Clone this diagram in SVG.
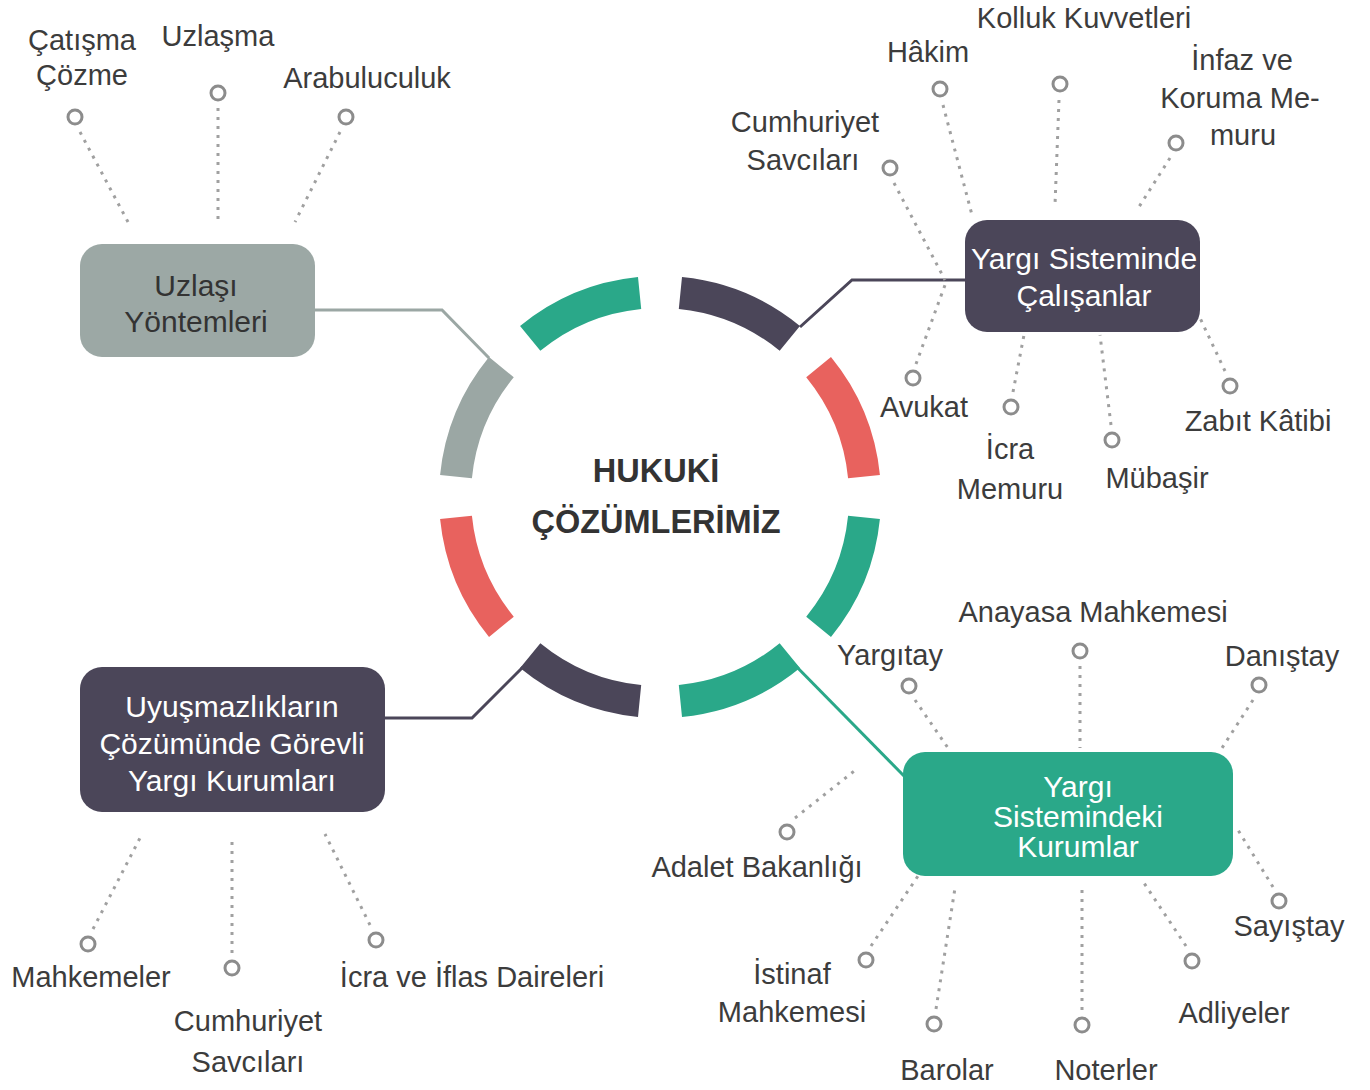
<svg xmlns="http://www.w3.org/2000/svg" width="1370" height="1090" viewBox="0 0 1370 1090">
<style>
.bg{fill:#ffffff}
.ring{fill:none;stroke-width:32}
.dk{stroke:#4b4659}
.rd{stroke:#e8625e}
.gn{stroke:#2aa889}
.gy{stroke:#9ba7a4}
.conn{fill:none;stroke-width:3}
.dot{fill:none;stroke:#a0a0a0;stroke-width:3;stroke-dasharray:3 6}
.pin{fill:#ffffff;stroke:#8c8c8c;stroke-width:3}
.lbl{font-family:"Liberation Sans",Arial,sans-serif;font-size:29px;fill:#3c3c3c;text-anchor:middle;dominant-baseline:central}
.btx{font-family:"Liberation Sans",Arial,sans-serif;font-size:30px;fill:#ffffff;text-anchor:middle;dominant-baseline:central}
.ctr{font-family:"Liberation Sans",Arial,sans-serif;font-size:32.5px;font-weight:bold;fill:#333333;text-anchor:middle;dominant-baseline:central}
</style>
<rect class="bg" x="0" y="0" width="1370" height="1090"/>

<g id="center">
<path class="ring dk" d="M680.4,293 A205,205 0 0 1 789.8,338.4"/>
<path class="ring rd" d="M818.6,367.2 A205,205 0 0 1 864,476.6"/>
<path class="ring gn" d="M864,517.4 A205,205 0 0 1 818.6,626.8"/>
<path class="ring gn" d="M789.8,655.6 A205,205 0 0 1 680.4,701"/>
<path class="ring dk" d="M639.6,701 A205,205 0 0 1 530.2,655.6"/>
<path class="ring rd" d="M501.4,626.8 A205,205 0 0 1 456,517.4"/>
<path class="ring gy" d="M456,476.6 A205,205 0 0 1 501.4,367.2"/>
<path class="ring gn" d="M530.2,338.4 A205,205 0 0 1 639.6,293"/>
<text class="ctr" x="656" y="471">HUKUKİ</text>
<text class="ctr" x="656" y="522">ÇÖZÜMLERİMİZ</text>
</g>

<g id="connectors">
<polyline class="conn" stroke="#9ba7a4" points="315,310 442,310 489,358"/>
<polyline class="conn" stroke="#4b4659" points="965,280 852,280 800,327"/>
<polyline class="conn" stroke="#4b4659" points="385,718 472,718 523,667"/>
<polyline class="conn" stroke="#2aa889" points="787,657 905,777"/>
<line class="dot" x1="80" y1="132" x2="128" y2="222"/>
<line class="dot" x1="218" y1="108" x2="218" y2="222"/>
<line class="dot" x1="340" y1="132" x2="295" y2="222"/>
<line class="dot" x1="943" y1="105" x2="972" y2="215"/>
<line class="dot" x1="1059" y1="100" x2="1055" y2="205"/>
<line class="dot" x1="1170" y1="158" x2="1137" y2="210"/>
<line class="dot" x1="894" y1="183" x2="945" y2="280"/>
<line class="dot" x1="916" y1="364" x2="945" y2="285"/>
<line class="dot" x1="1013" y1="392" x2="1024" y2="335"/>
<line class="dot" x1="1111" y1="425" x2="1100" y2="335"/>
<line class="dot" x1="1225" y1="371" x2="1200" y2="318"/>
<line class="dot" x1="915" y1="700" x2="948" y2="748"/>
<line class="dot" x1="1080" y1="666" x2="1080" y2="748"/>
<line class="dot" x1="1253" y1="700" x2="1222" y2="748"/>
<line class="dot" x1="795" y1="818" x2="858" y2="768"/>
<line class="dot" x1="1273" y1="887" x2="1238" y2="830"/>
<line class="dot" x1="871" y1="946" x2="918" y2="876"/>
<line class="dot" x1="936" y1="1009" x2="955" y2="888"/>
<line class="dot" x1="1082" y1="1010" x2="1082" y2="890"/>
<line class="dot" x1="1186" y1="946" x2="1142" y2="880"/>
<line class="dot" x1="93" y1="929" x2="140" y2="838"/>
<line class="dot" x1="232" y1="953" x2="232" y2="838"/>
<line class="dot" x1="370" y1="925" x2="325" y2="834"/>
</g>

<g id="uzlasi-yontemleri">
<rect x="80" y="244" width="235" height="113" rx="22" fill="#9ca8a5"/>
<text class="btx" x="196" y="285" style="fill:#333333">Uzlaşı</text>
<text class="btx" x="196" y="321" style="fill:#333333">Yöntemleri</text>
</g>

<g id="yargi-sisteminde-calisanlar">
<rect x="965" y="220" width="235" height="112" rx="22" fill="#4b4659"/>
<text class="btx" x="1084" y="258">Yargı Sisteminde</text>
<text class="btx" x="1084" y="295">Çalışanlar</text>
</g>

<g id="uyusmazliklarin-cozumunde">
<rect x="80" y="667" width="305" height="145" rx="22" fill="#4b4659"/>
<text class="btx" x="232" y="706">Uyuşmazlıkların</text>
<text class="btx" x="232" y="743">Çözümünde Görevli</text>
<text class="btx" x="232" y="780">Yargı Kurumları</text>
</g>

<g id="yargi-sistemindeki-kurumlar">
<rect x="903" y="752" width="330" height="124" rx="22" fill="#2aa889"/>
<text class="btx" x="1078" y="786">Yargı</text>
<text class="btx" x="1078" y="816">Sistemindeki</text>
<text class="btx" x="1078" y="846">Kurumlar</text>
</g>

<g id="catisma-cozme"><circle class="pin" cx="75" cy="117" r="7"/><text class="lbl" x="82" y="40">Çatışma</text><text class="lbl" x="82" y="75">Çözme</text></g>
<g id="uzlasma"><circle class="pin" cx="218" cy="93" r="7"/><text class="lbl" x="218" y="36">Uzlaşma</text></g>
<g id="arabuluculuk"><circle class="pin" cx="346" cy="117" r="7"/><text class="lbl" x="367" y="78">Arabuluculuk</text></g>

<g id="hakim"><circle class="pin" cx="940" cy="89" r="7"/><text class="lbl" x="928" y="52">Hâkim</text></g>
<g id="kolluk"><circle class="pin" cx="1060" cy="84" r="7"/><text class="lbl" x="1084" y="18">Kolluk Kuvvetleri</text></g>
<g id="infaz"><circle class="pin" cx="1176" cy="143" r="7"/><text class="lbl" x="1242" y="60">İnfaz ve</text><text class="lbl" x="1240" y="98">Koruma Me-</text><text class="lbl" x="1243" y="135">muru</text></g>
<g id="cumhuriyet-savcilari-1"><circle class="pin" cx="890" cy="168" r="7"/><text class="lbl" x="805" y="122">Cumhuriyet</text><text class="lbl" x="803" y="160">Savcıları</text></g>
<g id="avukat"><circle class="pin" cx="913" cy="378" r="7"/><text class="lbl" x="924" y="407">Avukat</text></g>
<g id="icra-memuru"><circle class="pin" cx="1011" cy="407" r="7"/><text class="lbl" x="1010" y="449">İcra</text><text class="lbl" x="1010" y="489">Memuru</text></g>
<g id="mubasir"><circle class="pin" cx="1112" cy="440" r="7"/><text class="lbl" x="1157" y="478">Mübaşir</text></g>
<g id="zabit-katibi"><circle class="pin" cx="1230" cy="386" r="7"/><text class="lbl" x="1258" y="421">Zabıt Kâtibi</text></g>

<g id="yargitay"><circle class="pin" cx="909" cy="686" r="7"/><text class="lbl" x="890" y="655">Yargıtay</text></g>
<g id="anayasa"><circle class="pin" cx="1080" cy="651" r="7"/><text class="lbl" x="1093" y="612">Anayasa Mahkemesi</text></g>
<g id="danistay"><circle class="pin" cx="1259" cy="685" r="7"/><text class="lbl" x="1282" y="656">Danıştay</text></g>
<g id="adalet"><circle class="pin" cx="787" cy="832" r="7"/><text class="lbl" x="757" y="867">Adalet Bakanlığı</text></g>
<g id="sayistay"><circle class="pin" cx="1279" cy="901" r="7"/><text class="lbl" x="1289" y="926">Sayıştay</text></g>
<g id="istinaf"><circle class="pin" cx="866" cy="960" r="7"/><text class="lbl" x="792" y="974">İstinaf</text><text class="lbl" x="792" y="1012">Mahkemesi</text></g>
<g id="barolar"><circle class="pin" cx="934" cy="1024" r="7"/><text class="lbl" x="947" y="1070">Barolar</text></g>
<g id="noterler"><circle class="pin" cx="1082" cy="1025" r="7"/><text class="lbl" x="1106" y="1070">Noterler</text></g>
<g id="adliyeler"><circle class="pin" cx="1192" cy="961" r="7"/><text class="lbl" x="1234" y="1013">Adliyeler</text></g>

<g id="mahkemeler"><circle class="pin" cx="88" cy="944" r="7"/><text class="lbl" x="91" y="977">Mahkemeler</text></g>
<g id="cumhuriyet-savcilari-2"><circle class="pin" cx="232" cy="968" r="7"/><text class="lbl" x="248" y="1021">Cumhuriyet</text><text class="lbl" x="248" y="1062">Savcıları</text></g>
<g id="icra-iflas"><circle class="pin" cx="376" cy="940" r="7"/><text class="lbl" x="472" y="977">İcra ve İflas Daireleri</text></g>
</svg>
